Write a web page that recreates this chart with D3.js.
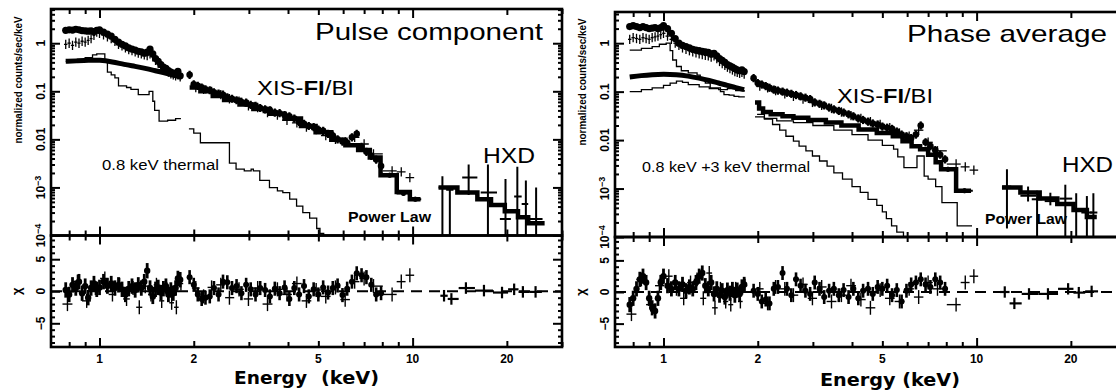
<!DOCTYPE html>
<html><head><meta charset="utf-8">
<script src="https://cdn.jsdelivr.net/npm/d3@7/dist/d3.min.js"></script>
<style>html,body{margin:0;padding:0;background:#fff;} svg{display:block;}</style>
</head><body>
<script>
// ---------------- axis / tick arrays ----------------
const energyDomain = [0.7, 30];
const xTickValues = [1, 2, 5, 10, 20];
const xTickLabels = ["1", "2", "5", "10", "20"];
const xMinorValues = [0.8, 0.9, 3, 4, 6, 7, 8, 9, 30];
const yDecades = [1e-4, 1e-3, 0.01, 0.1, 1];
const yDecadeLabels = [["10", "−4"], ["10", "−3"], ["0.01", ""], ["0.1", ""], ["1", ""]];
const resDomain = [-8.7, 8.7];
const resTickValues = [-5, 0, 5];
const resTickLabels = ["−5", "0", "5"];
const resMinorValues = [-8, -7, -6, -4, -3, -2, -1, 1, 2, 3, 4, 6, 7, 8];

// ---------------- shared energy grids (keV) ----------------
const softE = [0.78,0.80,0.82,0.84,0.86,0.88,0.90,0.92,0.94,0.96,
  0.98,1.00,1.03,1.06,1.09,1.12,1.15,1.18,1.21,1.24,
  1.27,1.30,1.33,1.36,1.39,1.42,1.45,1.48,1.51,1.54,
  1.57,1.60,1.63,1.66,1.69,1.72,1.75,1.78,1.81];
const hardE = [1.94,2.00,2.06,2.12,2.18,2.25,2.32,2.40,2.48,2.56,
  2.65,2.74,2.84,2.94,3.04,3.15,3.26,3.38,3.50,3.63,
  3.76,3.90,4.04,4.19,4.34,4.50,4.66,4.83,5.00,5.18,
  5.37,5.56,5.76,5.97,6.18,6.40,6.63,6.87,7.12,7.38,
  7.65,7.93];
const biHardE = [2.03,2.15,2.28,2.44,2.60,2.79,2.99,3.20,3.44,3.70,3.97,4.27,4.58,4.92,5.28,5.67,6.09,6.53,7.00,7.50,8.60,9.20,9.80];
const plSoftE = [0.78,0.85,0.92,1.0,1.1,1.2,1.3,1.4,1.5,1.6,1.7,1.81];
const biResSoftE = [0.79,0.85,0.91,0.97,1.04,1.10,1.16,1.22,1.28,1.34,1.40,1.46,1.52,1.58,1.64,1.70,1.76,1.82];
const fiRelErr = 0.12;
const biRelErr = 0.25;

// ---------------- LEFT: Pulse component ----------------
const L_fiSoft = [1.85,1.90,1.88,1.95,1.90,1.82,1.80,1.78,1.80,1.75,
  1.85,1.90,1.70,1.55,1.40,1.20,1.05,0.95,0.88,0.80,
  0.75,0.72,0.68,0.66,0.62,0.65,0.75,0.60,0.48,0.42,
  0.36,0.32,0.30,0.27,0.25,0.24,0.23,0.26,0.21];
const L_biSoft = [0.95,1.00,0.90,1.05,1.00,1.10,1.05,1.15,1.25,1.45,
  1.70,1.60,1.50,1.35,1.25,1.10,0.95,0.88,0.80,0.74,
  0.70,0.66,0.62,0.60,0.57,0.55,0.60,0.52,0.44,0.38,
  0.34,0.30,0.28,0.25,0.23,0.22,0.21,0.22,0.20];
const L_fiHard = [0.22,0.14,0.13,0.12,0.11,0.105,0.095,0.09,0.085,0.075,
  0.07,0.065,0.06,0.058,0.052,0.05,0.045,0.042,0.04,0.036,
  0.035,0.032,0.03,0.027,0.023,0.021,0.019,0.018,0.016,0.015,
  0.013,0.012,0.010,0.009,0.0085,0.011,0.013,0.007,0.0055,0.0045,
  0.0038,0.0028];
const L_biHard = [0.12,0.11,0.10,0.085,0.07,0.062,0.05,0.046,0.036,0.032,0.025,0.022,0.018,0.016,0.012,0.010,0.009,0.011,0.008,0.005,0.0022,0.0021,0.0016];
const L_fiTailE = [8.45, 9.35, 10.2];
const L_fiTail = [0.0018, 0.00075, 0.00057];
const L_plSoft = [0.42,0.43,0.44,0.45,0.41,0.36,0.33,0.30,0.27,0.245,0.22,0.20];
const L_thSoftE = [0.78,0.85,0.90,0.95,0.98,1.04,1.06,1.09,1.12,1.15,1.22,1.26,1.30,1.33,1.40,1.44,1.48,1.50,1.55,1.65,1.75,1.82];
const L_thSoft = [0.42,0.45,0.50,0.57,0.60,0.40,0.25,0.22,0.19,0.13,0.12,0.11,0.11,0.085,0.085,0.10,0.062,0.04,0.024,0.025,0.027,0.027];
const L_thHardE = [1.93,2.0,2.1,2.3,2.45,2.6,2.73,2.9,3.05,3.1,3.25,3.49,3.7,3.85,4.05,4.26,4.46,4.69,4.94,5.06,5.2];
const L_thHard = [0.0165,0.0135,0.0085,0.0085,0.0085,0.0032,0.0024,0.0022,0.0024,0.0022,0.0014,0.00099,0.00085,0.00078,0.00057,0.00041,0.0003,0.00023,0.00014,0.00011,0.00009];
const L_mHardE = [1.94,2.1,2.3,2.5,2.8,3.1,3.5,3.9,4.4,4.9,5.5,6.1,6.7,7.3,7.9,8.9,9.8,10.6];
const L_mHard = [0.12,0.1,0.08,0.066,0.053,0.043,0.034,0.027,0.019,0.014,0.0098,0.0075,0.006,0.0042,0.0018,0.0008,0.00057,0.00057];
const L_hxdME = [12.1,13.9,16.1,17.8,19.7,21.7,23.4,26.4];
const L_hxdM = [0.001,0.00078,0.00057,0.00043,0.00032,0.00024,0.00018,0.00018];
const L_hxdE = [12.45,13.15,15.1,17.4,19.8,21.6,23.0,24.8];
const L_hxdLo = [12.1,12.8,14.4,16.5,19.0,21.1,22.3,23.4];
const L_hxdHi = [12.8,13.5,16.1,18.6,20.6,22.3,23.4,26.0];
const L_hxdV = [0.001,0.0009,0.0016,0.00078,0.00022,0.00065,0.00045,0.00022];
const L_hxdErrLo = [0.0001,0.0001,0.0007,0.0001,0.0001,0.0001,0.0001,0.0001];
const L_hxdErrHi = [0.0017,0.00105,0.003,0.003,0.0015,0.0027,0.0014,0.001];
const L_rFiSoft = [0.2,-0.5,1.0,0.5,1.5,-0.3,0.8,-1.0,0.5,1.2,
  0.3,0.6,1.5,0.8,1.2,0.5,1.0,0.3,-0.5,0.4,
  0.8,0.2,1.0,0.5,1.5,3.2,0.5,-0.8,0.3,0.6,
  -0.2,0.4,0.8,-0.5,0.2,-0.3,0.5,2.0,1.8];
const L_rBiSoft = [-2.0,1.5,-1.5,0.5,2.0,-0.5,1.0,-1.2,0.5,-2.5,0.8,-0.5,1.0,-1.5,0.3,-1.8,-2.5,1.2];
const L_rFiHard = [2.2,1.0,-0.5,-1.2,-1.0,-0.8,0.5,-0.5,1.5,1.4,
  0.5,0.8,-0.3,1.0,0.3,-0.5,0.5,0.2,-0.8,0.4,
  -0.3,0.6,-1.2,0.5,-0.5,0.8,-0.8,0.3,-0.5,0.6,
  -0.2,0.5,0.9,-0.6,0.4,1.5,2.8,2.5,2.2,1.0,
  -0.5,-0.3];
const L_rBiHard = [0.5,-0.8,0.6,1.0,-1.0,0.3,-1.2,0.5,-2.0,0.3,-0.5,1.2,-1.5,0.2,-0.8,0.6,-1.3,1.5,2.0,0.8,-0.5,1.5,2.5];
const L_rHxdE = [12.6,13.3,14.8,16.9,19.3,21.1,22.5,24.7];
const L_rHxd = [-0.7,-1.2,0.5,0.1,-0.2,0.3,-0.1,-0.1];

// ---------------- RIGHT: Phase average ----------------
const R_fiSoft = [2.20,2.30,2.20,2.10,2.20,2.10,2.00,2.05,2.10,2.00,
  2.10,2.30,2.00,1.60,1.25,1.00,0.90,0.85,0.80,0.75,
  0.72,0.70,0.68,0.66,0.65,0.60,0.62,0.55,0.48,0.44,
  0.40,0.36,0.34,0.32,0.30,0.28,0.27,0.28,0.26];
const R_biSoft = [1.20,1.30,1.25,1.20,1.30,1.25,1.20,1.30,1.35,1.40,
  1.50,1.60,1.40,1.20,1.00,0.90,0.80,0.75,0.70,0.66,
  0.63,0.60,0.58,0.56,0.55,0.52,0.55,0.48,0.42,0.38,
  0.35,0.32,0.30,0.28,0.26,0.25,0.24,0.25,0.23];
const R_fiHard = [0.19,0.15,0.14,0.13,0.12,0.11,0.105,0.10,0.095,0.09,
  0.085,0.08,0.075,0.07,0.06,0.056,0.052,0.047,0.043,0.040,
  0.037,0.034,0.031,0.028,0.026,0.024,0.022,0.021,0.019,0.018,
  0.017,0.015,0.013,0.012,0.011,0.013,0.02,0.009,0.0075,0.0062,
  0.005,0.004];
const R_biHard = [0.13,0.12,0.105,0.09,0.08,0.07,0.06,0.052,0.045,0.038,0.032,0.028,0.024,0.021,0.018,0.014,0.012,0.016,0.009,0.006,0.0032,0.0028,0.0024];
const R_fiTailE = [8.1, 9.15];
const R_fiTail = [0.0025, 0.0009];
const R_plSoft = [0.20,0.215,0.225,0.23,0.225,0.21,0.19,0.17,0.15,0.135,0.12,0.11];
const R_th08SoftE = [0.78,0.85,0.92,0.97,1.02,1.05,1.07,1.10,1.14,1.20,1.28,1.31,1.36,1.41,1.47,1.52,1.56,1.62,1.68,1.74,1.81];
const R_th08Soft = [0.72,0.78,0.85,0.95,1.0,0.7,0.45,0.33,0.27,0.245,0.22,0.18,0.15,0.12,0.12,0.10,0.087,0.085,0.08,0.078,0.08];
const R_th3SoftE = [0.78,0.85,0.92,1.0,1.05,1.1,1.15,1.2,1.3,1.4,1.5,1.6,1.7,1.81];
const R_th3Soft = [0.10,0.11,0.12,0.135,0.15,0.165,0.155,0.14,0.125,0.115,0.11,0.115,0.105,0.10];
const R_plHardE = [1.96,2.02,2.08,2.2,2.4,2.6,2.9,3.3,3.7,4.2,4.8,5.4,5.8,6.2,6.6,7.0,7.4,7.7,8.6,9.6];
const R_plHard = [0.06,0.045,0.038,0.034,0.031,0.029,0.026,0.023,0.02,0.0165,0.014,0.012,0.0095,0.0075,0.0065,0.005,0.0035,0.0025,0.0009,0.0009];
const R_th3HardE = [1.96,2.1,2.3,2.6,3.0,3.5,4.0,4.5,5.0,5.43,5.6,5.86,6.3,6.45,6.7,6.8,7.0,7.4,7.75,8.67,9.67];
const R_th3Hard = [0.03,0.028,0.025,0.023,0.02,0.016,0.013,0.01,0.0078,0.0065,0.0045,0.0027,0.0027,0.0047,0.0047,0.0018,0.00156,0.0011,0.00051,0.00017,0.00017];
const R_th08HardE = [1.99,2.1,2.23,2.35,2.46,2.6,2.71,2.85,2.99,3.15,3.33,3.5,3.73,4.0,4.25,4.5,4.8,5.0,5.15,5.35,5.56,5.84];
const R_th08Hard = [0.034,0.027,0.021,0.016,0.012,0.0095,0.0075,0.006,0.0047,0.0037,0.0029,0.0021,0.00156,0.0011,0.00083,0.0006,0.00045,0.00033,0.00024,0.00017,0.000126,0.0001];
const R_hxdME = [12.05,13.8,15.9,18.1,20.4,22.5,24.2];
const R_hxdM = [0.00105,0.00083,0.00062,0.00048,0.00036,0.00026,0.00026];
const R_hxdE = [12.5,14.6,15.6,17.2,19.2,20.8,22.5,23.6];
const R_hxdLo = [12.1,13.8,15.0,16.5,18.4,20.4,21.6,23.0];
const R_hxdHi = [12.9,15.5,16.2,17.9,20.2,21.3,23.4,24.3];
const R_hxdV = [0.0011,0.00071,0.0006,0.00055,0.00062,0.00036,0.00032,0.00032];
const R_hxdErrLo = [0.00015,0.00054,0.0001,0.00045,0.0001,0.0001,0.0001,0.0001];
const R_hxdErrHi = [0.0025,0.0011,0.0009,0.00082,0.0012,0.0008,0.0007,0.0008];
const R_rFiSoft = [-2.0,-1.0,0.5,2.0,2.5,1.5,-1.0,-2.5,-3.0,-1.0,
  1.5,2.5,1.0,0.5,1.5,0.5,1.2,0.2,0.8,0.5,
  1.5,2.5,3.0,1.0,0.5,1.5,-0.3,0.5,-0.5,0.2,
  -0.8,0.3,-0.2,0.4,-0.5,0.3,-0.3,0.8,1.2];
const R_rBiSoft = [-3.5,2.0,-2.0,1.0,2.5,0.5,-1.0,1.5,2.0,-1.0,3.0,-2.5,0.5,-1.5,-2.0,0.5,-1.5,1.0];
const R_rFiHard = [0.2,-0.3,-1.5,-1.2,-1.8,0.5,0.8,3.0,0.5,-0.5,
  2.0,1.0,0.2,-0.3,1.5,0.5,-0.8,0.2,0.5,-0.5,
  0.3,-0.8,0.5,-1.0,0.2,0.5,-0.3,0.8,0.5,1.0,
  -0.5,0.3,-1.5,0.2,1.2,1.5,2.0,1.2,0.8,2.0,
  1.5,0.5];
const R_rBiHard = [0.5,-1.8,0.8,0.5,-0.5,1.2,-1.0,0.8,-1.5,-0.5,1.0,-1.2,-2.5,0.3,-1.0,-1.5,0.5,-0.8,1.5,0.5,-2.0,1.5,2.5];
const R_rHxdE = [12.3,13.2,14.7,16.9,19.6,21.2,23.3];
const R_rHxd = [0.0,-1.8,-0.3,-0.3,0.5,-0.1,0.1];

// ---------------- panel configuration ----------------
const panels = [
  { id: "a", x0: 51, top: 9, div: 235.5, bot: 347, yMax: 5.15,
    fiSoft: L_fiSoft, biSoft: L_biSoft, fiHard: L_fiHard, biHard: L_biHard,
    fiTailE: L_fiTailE, fiTail: L_fiTail,
    thick: [[plSoftE, L_plSoft, "basis"], [L_mHardE, L_mHard, "step"], [L_hxdME, L_hxdM, "step"]],
    thin: [[L_thSoftE, L_thSoft], [L_thHardE, L_thHard]],
    hxd: [L_hxdE, L_hxdLo, L_hxdHi, L_hxdV, L_hxdErrLo, L_hxdErrHi],
    res: { fiSoft: L_rFiSoft, biSoft: L_rBiSoft, fiHard: L_rFiHard, biHard: L_rBiHard, hxdE: L_rHxdE, hxd: L_rHxd },
    title: { t: "Pulse component", x: 315, y: 40, w: 228 },
    xis: { x: 257, y: 95, w: 97 },
    hxdLab: { x: 483, y: 163, w: 52 },
    therm: { t: "0.8 keV thermal", x: 102, y: 170, w: 117 },
    pl: { x: 348, y: 222, w: 83 },
    xt: [{ t: "Energy", x: 234, w: 73 }, { t: "(keV)", x: 321, w: 58 }], xtY: 384,
    ytitleY: 80 },
  { id: "b", x0: 615, top: 12, div: 237, bot: 347, yMax: 4.4,
    fiSoft: R_fiSoft, biSoft: R_biSoft, fiHard: R_fiHard, biHard: R_biHard,
    fiTailE: R_fiTailE, fiTail: R_fiTail,
    thick: [[plSoftE, R_plSoft, "basis"], [R_plHardE, R_plHard, "step"], [R_hxdME, R_hxdM, "step"]],
    thin: [[R_th08SoftE, R_th08Soft], [R_th3SoftE, R_th3Soft], [R_th3HardE, R_th3Hard], [R_th08HardE, R_th08Hard]],
    hxd: [R_hxdE, R_hxdLo, R_hxdHi, R_hxdV, R_hxdErrLo, R_hxdErrHi],
    res: { fiSoft: R_rFiSoft, biSoft: R_rBiSoft, fiHard: R_rFiHard, biHard: R_rBiHard, hxdE: R_rHxdE, hxd: R_rHxd },
    title: { t: "Phase average", x: 907, y: 41.5, w: 200 },
    xis: { x: 837, y: 103, w: 96 },
    hxdLab: { x: 1062, y: 171.5, w: 51 },
    therm: { t: "0.8 keV +3 keV thermal", x: 642, y: 171.5, w: 168 },
    pl: { x: 985, y: 224, w: 82 },
    xt: [{ t: "Energy (keV)", x: 820, w: 140 }], xtY: 386,
    ytitleY: 82 }
];

// ---------------- drawing ----------------
const PW = 511;
const svg = d3.select("body").append("svg").attr("width", 1116).attr("height", 392);
const defs = svg.append("defs");
const SANS = "'Liberation Sans', Arial, Helvetica, sans-serif";

function bins(E) {
  return E.map((e, i) => {
    const p = i > 0 ? E[i - 1] : null, n = i < E.length - 1 ? E[i + 1] : null;
    const lo = p !== null ? Math.sqrt(p * e) : (n !== null ? e * e / Math.sqrt(n * e) : e * 0.97);
    const hi = n !== null ? Math.sqrt(n * e) : (p !== null ? e * e / Math.sqrt(p * e) : e * 1.03);
    return [lo, hi];
  });
}

function crosses(g, x, y, E, V, o) {
  const b = o.lo ? E.map((e, i) => [o.lo[i], o.hi[i]]) : bins(E);
  const sg = g.append("g").attr("stroke", "#000").attr("stroke-width", o.sw).attr("fill", "none");
  E.forEach((e, i) => {
    const v = V[i];
    const vlo = o.eLo ? o.eLo[i] : (o.abs != null ? v - o.abs : v / (1 + o.rel));
    const vhi = o.eHi ? o.eHi[i] : (o.abs != null ? v + o.abs : v * (1 + o.rel));
    sg.append("line").attr("x1", x(b[i][0])).attr("x2", x(b[i][1])).attr("y1", y(v)).attr("y2", y(v));
    sg.append("line").attr("x1", x(e)).attr("x2", x(e)).attr("y1", y(vlo)).attr("y2", y(vhi));
  });
  if (o.r) {
    g.append("g").selectAll("circle").data(E).join("circle")
      .attr("cx", d => x(d)).attr("cy", (d, i) => y(V[i])).attr("r", o.r).attr("fill", "#000");
  }
}

function styleAxis(sel) {
  sel.select(".domain").remove();
  sel.selectAll(".tick line").attr("stroke", "#000").attr("stroke-width", 2);
  sel.selectAll(".tick text").remove();
}

function drawPanel(p) {
  const x = d3.scaleLog().domain(energyDomain).range([p.x0, p.x0 + PW]);
  const yU = d3.scaleLog().domain([1e-4, p.yMax]).range([p.div, p.top]);
  const yL = d3.scaleLinear().domain(resDomain).range([p.bot, p.div]);

  defs.append("clipPath").attr("id", "cu" + p.id).append("rect")
    .attr("x", p.x0).attr("y", p.top).attr("width", PW).attr("height", p.div - p.top);
  defs.append("clipPath").attr("id", "cl" + p.id).append("rect")
    .attr("x", p.x0).attr("y", p.div).attr("width", PW).attr("height", p.bot - p.div);
  const gU = svg.append("g").attr("clip-path", `url(#cu${p.id})`);
  const gL = svg.append("g").attr("clip-path", `url(#cl${p.id})`);
  const zip = (a, b) => a.map((v, i) => [v, b[i]]);
  const lineU = c => d3.line().x(d => x(d[0])).y(d => yU(d[1])).curve(c);

  // thin model lines (thermal components)
  p.thin.forEach(([E, V]) => {
    gU.append("path").datum(zip(E, V)).attr("d", lineU(d3.curveStepAfter))
      .attr("fill", "none").attr("stroke", "#000").attr("stroke-width", 1.3);
  });
  // thick model lines
  p.thick.forEach(([E, V, k]) => {
    gU.append("path").datum(zip(E, V)).attr("d", lineU(k === "basis" ? d3.curveBasis : d3.curveStepAfter))
      .attr("fill", "none").attr("stroke", "#000").attr("stroke-width", k === "basis" ? 5 : 4.5);
  });
  // XIS data
  crosses(gU, x, yU, softE, p.biSoft, { rel: biRelErr, sw: 1.3 });
  crosses(gU, x, yU, biHardE, p.biHard, { rel: biRelErr, sw: 1.3 });
  crosses(gU, x, yU, softE, p.fiSoft, { rel: fiRelErr, sw: 2.4, r: 3.6 });
  crosses(gU, x, yU, hardE, p.fiHard, { rel: fiRelErr * 1.8, sw: 2.2, r: 3.3 });
  crosses(gU, x, yU, p.fiTailE, p.fiTail, { rel: fiRelErr, sw: 2, r: 2.5 });
  // HXD data
  const [hE, hLo, hHi, hV, hEl, hEh] = p.hxd;
  crosses(gU, x, yU, hE, hV, { lo: hLo, hi: hHi, eLo: hEl, eHi: hEh, sw: 2 });

  // residuals
  gL.append("path").datum(energyDomain).attr("d", d3.line().x(d => x(d)).y(() => yL(0)))
    .attr("stroke", "#000").attr("stroke-width", 2.2).attr("stroke-dasharray", "11,7").attr("fill", "none");
  crosses(gL, x, yL, biResSoftE, p.res.biSoft, { abs: 1.1, sw: 1.4 });
  crosses(gL, x, yL, biHardE, p.res.biHard, { abs: 1.1, sw: 1.4 });
  crosses(gL, x, yL, softE, p.res.fiSoft, { abs: 1.2, sw: 2.8, r: 3.2 });
  crosses(gL, x, yL, hardE, p.res.fiHard, { abs: 1.1, sw: 2.6, r: 3 });
  crosses(gL, x, yL, p.res.hxdE, p.res.hxd, { abs: 0.9, sw: 2.2 });

  // axes ticks (inward) using d3 axes
  const gA = svg.append("g");
  [[p.top, "top"], [p.div, "bottom"], [p.div, "top"], [p.bot, "bottom"]].forEach(([yy, side]) => {
    const mk = (vals, len) => {
      const ax = (side === "top" ? d3.axisTop(x) : d3.axisBottom(x)).tickValues(vals).tickSize(-len).tickFormat("");
      gA.append("g").attr("transform", `translate(0,${yy})`).call(ax).call(styleAxis);
    };
    mk(xMinorValues, 5);
    mk(xTickValues.filter(v => v === 1 || v === 10), 9);
    mk(xTickValues.filter(v => !(v === 1 || v === 10)), 6);
  });
  const yMinorU = yU.ticks().filter(v => !yDecades.includes(v) && v >= 1e-4 && v <= p.yMax);
  [["left", p.x0], ["right", p.x0 + PW]].forEach(([side, xx]) => {
    const mkU = (vals, len) => {
      const ax = (side === "left" ? d3.axisLeft(yU) : d3.axisRight(yU)).tickValues(vals).tickSize(-len).tickFormat("");
      gA.append("g").attr("transform", `translate(${xx},0)`).call(ax).call(styleAxis);
    };
    mkU(yMinorU, 4); mkU(yDecades, 9);
    const mkL = (vals, len) => {
      const ax = (side === "left" ? d3.axisLeft(yL) : d3.axisRight(yL)).tickValues(vals).tickSize(-len).tickFormat("");
      gA.append("g").attr("transform", `translate(${xx},0)`).call(ax).call(styleAxis);
    };
    mkL(resMinorValues, 4); mkL(resTickValues, 9);
  });

  // frames
  gA.append("rect").attr("x", p.x0).attr("y", p.top).attr("width", PW).attr("height", p.div - p.top)
    .attr("fill", "none").attr("stroke", "#000").attr("stroke-width", 2.6);
  gA.append("rect").attr("x", p.x0).attr("y", p.div).attr("width", PW).attr("height", p.bot - p.div)
    .attr("fill", "none").attr("stroke", "#000").attr("stroke-width", 2.6);

  // tick labels
  const tl = svg.append("g").attr("font-family", SANS).attr("font-weight", "bold").attr("font-size", 12).attr("fill", "#000");
  xTickValues.forEach((v, i) => {
    tl.append("text").attr("x", x(v)).attr("y", p.bot + 16).attr("text-anchor", "middle").text(xTickLabels[i]);
  });
  yDecades.forEach((v, i) => {
    const t = tl.append("text").attr("transform", `translate(${p.x0 - 6},${yU(v)}) rotate(-90)`).attr("text-anchor", "middle");
    t.append("tspan").text(yDecadeLabels[i][0]);
    if (yDecadeLabels[i][1]) t.append("tspan").attr("dy", -4).attr("font-size", 9).text(yDecadeLabels[i][1]);
  });
  resTickValues.forEach((v, i) => {
    tl.append("text").attr("transform", `translate(${p.x0 - 6},${yL(v)}) rotate(-90)`).attr("text-anchor", "middle").text(resTickLabels[i]);
  });
  tl.append("text").attr("transform", `translate(${p.x0 - 29},${p.ytitleY}) rotate(-90)`).attr("text-anchor", "middle")
    .attr("font-size", 10).attr("textLength", 127).attr("lengthAdjust", "spacingAndGlyphs").text("normalized counts/sec/keV");
  tl.append("text").attr("transform", `translate(${p.x0 - 30},${yL(0)}) rotate(-90)`).attr("text-anchor", "middle")
    .attr("font-size", 13).text("χ");

  // annotations
  const an = svg.append("g").attr("font-family", SANS).attr("fill", "#000");
  const txt = (o, t, size, weight) => an.append("text").attr("x", o.x).attr("y", o.y).attr("font-size", size)
    .attr("font-weight", weight || "normal").attr("textLength", o.w).attr("lengthAdjust", "spacingAndGlyphs").text(t);
  txt(p.title, p.title.t, 24);
  const xs = an.append("text").attr("x", p.xis.x).attr("y", p.xis.y).attr("font-size", 21)
    .attr("textLength", p.xis.w).attr("lengthAdjust", "spacingAndGlyphs");
  xs.append("tspan").text("XIS-"); xs.append("tspan").attr("font-weight", "bold").text("FI"); xs.append("tspan").text("/BI");
  txt(p.hxdLab, "HXD", 22);
  txt(p.therm, p.therm.t, 15.5);
  txt(p.pl, "Power Law", 15, "bold");
  const xt = svg.append("g").attr("font-family", "'DejaVu Sans', sans-serif").attr("font-weight", "bold")
    .attr("font-size", 18.5).attr("fill", "#000");
  p.xt.forEach(o => xt.append("text").attr("x", o.x).attr("y", p.xtY).attr("textLength", o.w)
    .attr("lengthAdjust", "spacingAndGlyphs").text(o.t));
}

panels.forEach(drawPanel);
</script>
</body></html>
